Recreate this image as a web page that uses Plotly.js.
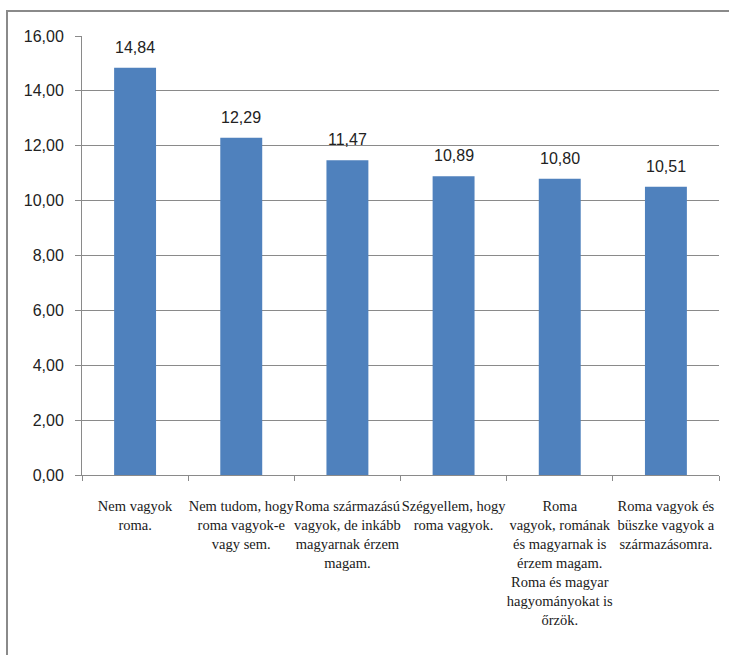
<!DOCTYPE html>
<html>
<head>
<meta charset="utf-8">
<script src="https://cdn.plot.ly/plotly-3.0.1.min.js"></script>
<style>
  html, body { margin: 0; padding: 0; background: #fff; }
  #wrap { position: relative; width: 729px; height: 655px; overflow: hidden; }
  #chart { position: absolute; left: 0; top: 0; width: 729px; height: 655px; }
  #frame { position: absolute; left: 6px; top: 10px; width: 760px; height: 700px;
           border-left: 2px solid #8a8a8a; border-top: 2px solid #8a8a8a; pointer-events: none; }
</style>
</head>
<body>
<div id="wrap">
  <div id="chart"></div>
  <div id="frame"></div>
</div>
<script>
// Answer categories (wrapped the way they appear under the axis)
const categories = [
  "Nem vagyok<br>roma.",
  "Nem tudom, hogy<br>roma vagyok-e<br>vagy sem.",
  "Roma származású<br>vagyok, de inkább<br>magyarnak érzem<br>magam.",
  "Szégyellem, hogy<br>roma vagyok.",
  "Roma<br>vagyok, romának<br>és magyarnak is<br>érzem magam.<br>Roma és magyar<br>hagyományokat is<br>őrzök.",
  "Roma vagyok és<br>büszke vagyok a<br>származásomra."
];
const values = [14.84, 12.29, 11.47, 10.89, 10.80, 10.51];
const yTickVals = [0, 2, 4, 6, 8, 10, 12, 14, 16];
const yTickText = ["0,00", "2,00", "4,00", "6,00", "8,00", "10,00", "12,00", "14,00", "16,00"];

const fmt = v => v.toFixed(2).replace('.', ',');

const trace = {
  type: 'bar',
  x: categories,
  y: values,
  marker: { color: '#4F81BD', line: { width: 0 } },
  hoverinfo: 'none'
};

const annotations = values.map((v, i) => ({
  x: categories[i], y: v, xref: 'x', yref: 'y',
  text: fmt(v), showarrow: false,
  yanchor: 'bottom', yshift: 10,
  font: { family: 'Liberation Sans, Arial, sans-serif', size: 16, color: '#222' }
}));

const layout = {
  width: 729, height: 655,
  margin: { l: 82, r: 10, t: 36, b: 180, pad: 0 },
  paper_bgcolor: '#fff', plot_bgcolor: '#fff',
  showlegend: false,
  bargap: 0.605,
  xaxis: {
    type: 'category',
    showline: true, linecolor: '#8a8a8a', linewidth: 1,
    ticks: 'outside', ticklen: 5, tickcolor: '#8a8a8a', tickson: 'boundaries',
    showgrid: false,
    tickangle: 0,
    ticklabelstandoff: 18,
    tickfont: { family: 'Liberation Serif, Times New Roman, serif', size: 14.5, color: '#1a1a1a' }
  },
  yaxis: {
    range: [0, 16],
    tickvals: yTickVals, ticktext: yTickText,
    showline: true, linecolor: '#8a8a8a', linewidth: 1,
    ticks: 'outside', ticklen: 6, tickcolor: '#8a8a8a',
    showgrid: true, gridcolor: '#8a8a8a', gridwidth: 1,
    zeroline: false,
    ticklabelstandoff: 8,
    tickfont: { family: 'Liberation Sans, Arial, sans-serif', size: 16, color: '#222' }
  },
  annotations: annotations
};

Plotly.newPlot('chart', [trace], layout, { staticPlot: true, displayModeBar: false });
</script>
</body>
</html>
